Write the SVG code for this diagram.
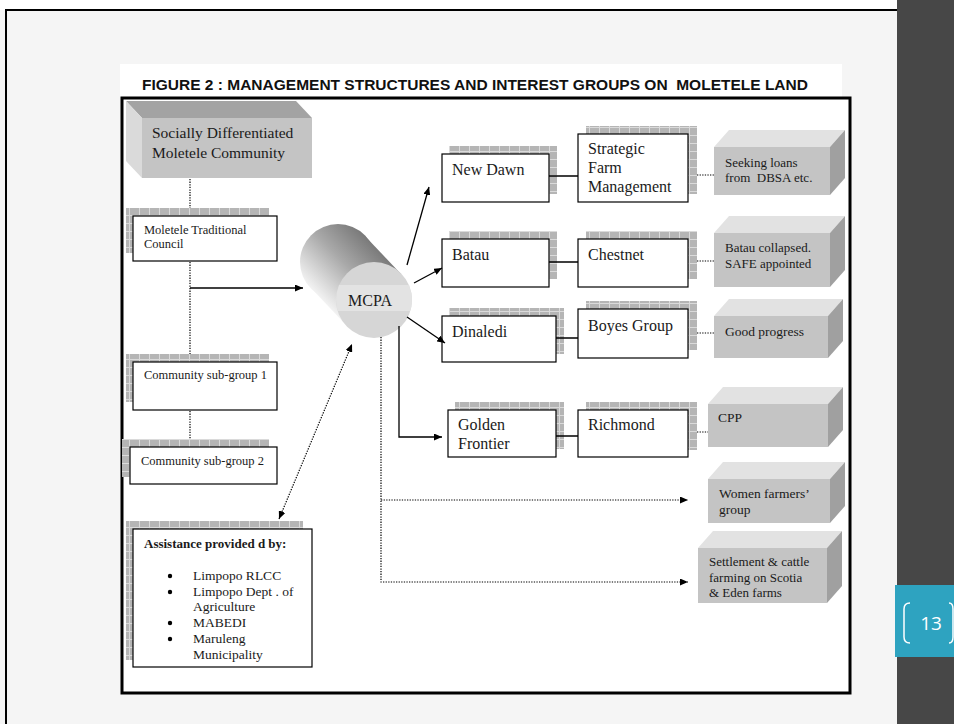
<svg xmlns="http://www.w3.org/2000/svg" width="954" height="724" viewBox="0 0 954 724">
<defs>
<style>
.t{font-family:"Liberation Serif","Times New Roman",serif;fill:#1a1a1a;white-space:pre}
.box{fill:#ffffff;stroke:#000;stroke-width:1.2}
.shd{fill:url(#chk)}
.front{fill:#c4c4c4}
.top{fill:#e2e2e2}
.side{fill:#a0a0a0}
.sol{stroke:#000;stroke-width:1.3;fill:none}
.dot{stroke:#000;stroke-width:1.2;fill:none;stroke-dasharray:1.3 1.3}
</style>
<pattern id="chk" width="10" height="8" patternUnits="userSpaceOnUse">
<rect width="10" height="8" fill="#b5b5b5"/>
<path d="M9.5,0V8M0,7.5H10" stroke="#dadada" stroke-width="1"/>
</pattern>
<marker id="ah" markerWidth="8" markerHeight="7" refX="8" refY="3.5" orient="auto-start-reverse" markerUnits="userSpaceOnUse">
<path d="M0,0L8,3.5L0,7z" fill="#000"/>
</marker>
<linearGradient id="cyl" gradientUnits="userSpaceOnUse" x1="365" y1="236" x2="311" y2="288">
<stop offset="0" stop-color="#7a7a7a"/>
<stop offset="0.45" stop-color="#a9a9a9"/>
<stop offset="1" stop-color="#f2f2f2"/>
</linearGradient>
<clipPath id="fc"><circle cx="374" cy="300" r="38"/></clipPath>
</defs>

<rect width="954" height="724" fill="#f5f5f5"/>
<rect width="897" height="10" fill="#ffffff"/>
<rect x="897" y="0" width="57" height="724" fill="#474747"/>
<path d="M6,724V10H897" fill="none" stroke="#000" stroke-width="2"/>
<g id="pagetab">
<rect x="895" y="585" width="59" height="72" fill="#2ea3c0"/>
<path d="M910,603Q904,603 904,609V637Q904,643 910,643" fill="none" stroke="#fff" stroke-width="1.5"/>
<path d="M949,603Q953,603 953,609V637Q953,643 949,643" fill="none" stroke="#fff" stroke-width="1.5"/>
<text x="931" y="630" text-anchor="middle" font-family="'Open Sans','Liberation Sans',sans-serif" font-size="19" fill="#fff">13</text>
</g>

<rect x="120" y="64" width="722" height="33" fill="#ffffff"/>
<text x="142" y="90" font-family="'Liberation Sans',Arial,sans-serif" font-weight="bold" font-size="15.5" fill="#111" style="white-space:pre">FIGURE 2 : MANAGEMENT STRUCTURES AND INTEREST GROUPS ON  MOLETELE LAND</text>
<rect x="122" y="98" width="728" height="595" fill="#ffffff" stroke="#000" stroke-width="3"/>

<g id="socially">
<polygon points="126,101 296,101 312,118 142,118" fill="#a3a3a3"/>
<polygon points="126,101 142,118 142,178 126,161" fill="#dadada"/>
<rect x="142" y="118" width="170" height="60" fill="#c4c4c4"/>
<text class="t" x="152" y="138" font-size="15.5">Socially Differentiated</text>
<text class="t" x="152" y="158" font-size="15.5">Moletele Community</text>
</g>

<g id="mtc">
<rect class="shd" x="126" y="208" width="143" height="45"/>
<rect class="box" x="133" y="216" width="144" height="45"/>
<text class="t" x="144" y="234" font-size="12.5">Moletele Traditional</text>
<text class="t" x="144" y="248" font-size="12.5">Council</text>
</g>

<g id="csg1">
<rect class="shd" x="126" y="354" width="143" height="48"/>
<rect class="box" x="133" y="362" width="144" height="48"/>
<text class="t" x="144" y="379" font-size="12.5">Community sub-group 1</text>
</g>

<g id="csg2">
<rect class="shd" x="122" y="439" width="147" height="38"/>
<rect class="box" x="130" y="447" width="147" height="37"/>
<text class="t" x="141" y="465" font-size="12.5">Community sub-group 2</text>
</g>

<g id="assistance">
<rect class="shd" x="126" y="521" width="177" height="139"/>
<rect class="box" x="133" y="529" width="179" height="138"/>
<text class="t" x="144" y="548" font-size="13" font-weight="bold">Assistance provided d by:</text>
<circle cx="170" cy="576" r="2.2" fill="#000"/>
<circle cx="170" cy="592" r="2.2" fill="#000"/>
<circle cx="170" cy="623" r="2.2" fill="#000"/>
<circle cx="170" cy="639" r="2.2" fill="#000"/>
<text class="t" x="193" y="580" font-size="13.5">Limpopo RLCC</text>
<text class="t" x="193" y="596" font-size="13.5">Limpopo Dept . of</text>
<text class="t" x="193" y="611" font-size="13.5">Agriculture</text>
<text class="t" x="193" y="627" font-size="13.5">MABEDI</text>
<text class="t" x="193" y="643" font-size="13.5">Maruleng</text>
<text class="t" x="193" y="659" font-size="13.5">Municipality</text>
</g>

<g id="mcpa">
<circle cx="338" cy="262" r="38" fill="url(#cyl)"/>
<polygon points="365,236 401,274 347,326 311,288" fill="url(#cyl)"/>
<circle cx="374" cy="300" r="38" fill="#d6d6d6"/>
<rect x="334" y="285" width="80" height="26" fill="#e3e3e3" clip-path="url(#fc)"/>
<text class="t" x="370" y="306" font-size="16" text-anchor="middle">MCPA</text>
</g>

<g id="newdawn">
<rect class="shd" x="449" y="146" width="108" height="48"/>
<rect class="box" x="442" y="154" width="107" height="48"/>
<text class="t" x="452" y="175" font-size="16">New Dawn</text>
</g>
<g id="sfm">
<rect class="shd" x="586" y="126" width="111" height="68"/>
<rect class="box" x="578" y="134" width="110" height="68"/>
<text class="t" x="588" y="154" font-size="16">Strategic</text>
<text class="t" x="588" y="173" font-size="16">Farm</text>
<text class="t" x="588" y="192" font-size="16">Management</text>
</g>
<g id="batau">
<rect class="shd" x="449" y="231" width="108" height="48"/>
<rect class="box" x="442" y="239" width="107" height="48"/>
<text class="t" x="452" y="260" font-size="16">Batau</text>
</g>
<g id="chestnet">
<rect class="shd" x="586" y="231" width="111" height="48"/>
<rect class="box" x="578" y="239" width="110" height="48"/>
<text class="t" x="588" y="260" font-size="16">Chestnet</text>
</g>
<g id="dinaledi">
<rect class="shd" x="449" y="308" width="115" height="46"/>
<rect class="box" x="442" y="316" width="114" height="46"/>
<text class="t" x="452" y="337" font-size="16">Dinaledi</text>
</g>
<g id="boyes">
<rect class="shd" x="586" y="301" width="111" height="49"/>
<rect class="box" x="578" y="309" width="110" height="49"/>
<text class="t" x="588" y="331" font-size="16">Boyes Group</text>
</g>
<g id="golden">
<rect class="shd" x="455" y="402" width="109" height="47"/>
<rect class="box" x="448" y="410" width="108" height="47"/>
<text class="t" x="458" y="430" font-size="16">Golden</text>
<text class="t" x="458" y="449" font-size="16">Frontier</text>
</g>
<g id="richmond">
<rect class="shd" x="586" y="402" width="111" height="48"/>
<rect class="box" x="578" y="410" width="110" height="47"/>
<text class="t" x="588" y="430" font-size="16">Richmond</text>
</g>

<g id="seeking">
<polygon class="top" points="714,147 830,147 845,130 729,130"/>
<polygon class="side" points="830,147 845,130 845,178 830,195"/>
<rect class="front" x="714" y="147" width="116" height="48"/>
<text class="t" x="725" y="167" font-size="13">Seeking loans</text>
<text class="t" x="725" y="182" font-size="13">from  DBSA etc.</text>
</g>
<g id="collapsed">
<polygon class="top" points="714,233 830,233 845,216 729,216"/>
<polygon class="side" points="830,233 845,216 845,270 830,287"/>
<rect class="front" x="714" y="233" width="116" height="54"/>
<text class="t" x="725" y="252" font-size="13">Batau collapsed.</text>
<text class="t" x="725" y="268" font-size="13">SAFE appointed</text>
</g>
<g id="goodprogress">
<polygon class="top" points="714,316 828,316 843,299 729,299"/>
<polygon class="side" points="828,316 843,299 843,341 828,358"/>
<rect class="front" x="714" y="316" width="114" height="42"/>
<text class="t" x="725" y="336" font-size="13.5">Good progress</text>
</g>
<g id="cpp">
<polygon class="top" points="708,404 828,404 843,387 723,387"/>
<polygon class="side" points="828,404 843,387 843,430 828,447"/>
<rect class="front" x="708" y="404" width="120" height="43"/>
<text class="t" x="718" y="422" font-size="13.5">CPP</text>
</g>
<g id="women">
<polygon class="top" points="708,479 830,479 845,462 723,462"/>
<polygon class="side" points="830,479 845,462 845,506 830,523"/>
<rect class="front" x="708" y="479" width="122" height="44"/>
<text class="t" x="719" y="498" font-size="13.5">Women farmers’</text>
<text class="t" x="719" y="514" font-size="13.5">group</text>
</g>
<g id="settlement">
<polygon class="top" points="698,548 827,548 842,531 713,531"/>
<polygon class="side" points="827,548 842,531 842,586 827,603"/>
<rect class="front" x="698" y="548" width="129" height="55"/>
<text class="t" x="709" y="566" font-size="13">Settlement &amp; cattle</text>
<text class="t" x="709" y="582" font-size="13">farming on Scotia</text>
<text class="t" x="709" y="597" font-size="13">&amp; Eden farms</text>
</g>

<g id="connectors">
<path class="dot" d="M190,179V208M190,262V354M190,411V439"/>
<path class="sol" d="M190,288H303" marker-end="url(#ah)"/>
<path class="sol" d="M407,265L429,187" marker-end="url(#ah)"/>
<path class="sol" d="M414,283L442,268" marker-end="url(#ah)"/>
<path class="sol" d="M407,317L445,343" marker-end="url(#ah)"/>
<path class="sol" d="M399,326V437H442" marker-end="url(#ah)"/>
<path class="dot" d="M381,337V582H688" marker-end="url(#ah)"/>
<path class="dot" d="M381,500H688" marker-end="url(#ah)"/>
<path class="dot" d="M279,519L352,344" marker-start="url(#ah)" marker-end="url(#ah)"/>
<path class="sol" d="M549,176H578M549,262H578M556,338H578M556,436H578"/>
<path class="dot" d="M697,175H714M697,261H714M697,333H714M697,432H708"/>
</g>
</svg>
